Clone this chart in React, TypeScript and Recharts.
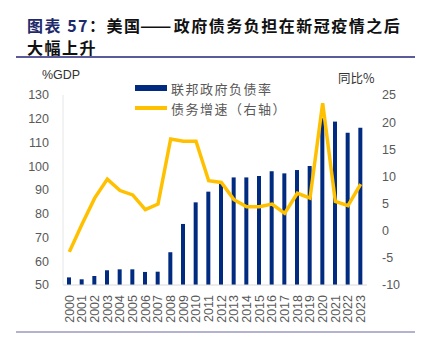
import React from "react";
import { ComposedChart, Bar, Line, XAxis, YAxis } from "recharts";

const years = [
  "2000", "2001", "2002", "2003", "2004", "2005", "2006", "2007", "2008", "2009", "2010", "2011",
  "2012", "2013", "2014", "2015", "2016", "2017", "2018", "2019", "2020", "2021", "2022", "2023",
];
const debtRatio = [
  53.2, 52.4, 53.8, 56.2, 56.6, 56.6, 55.5, 55.6, 63.8, 75.7, 84.8, 89.3,
  93.2, 95.3, 95.3, 95.9, 97.9, 97.0, 98.4, 100.1, 120.2, 118.8, 114.1, 116.2,
];
const debtGrowth = [
  -3.9, 1.2, 6.0, 9.5, 7.4, 6.6, 3.9, 4.9, 16.9, 16.5, 16.5, 9.2,
  8.9, 5.7, 4.4, 4.4, 4.9, 3.2, 6.9, 6.0, 23.5, 5.4, 4.6, 8.6,
];
const leftTicks = [50, 60, 70, 80, 90, 100, 110, 120, 130];
const rightTicks = [-10, -5, 0, 5, 10, 15, 20, 25];

const data = years.map((year, i) => ({
  year,
  ratio: debtRatio[i],
  growth: debtGrowth[i],
}));

const BAR = "#002B80";
const LINE = "#FFC000";
const TICK = "#595959";

const YearTick = ({ x, y, payload }: any) => (
  <g transform={`translate(${x},${y + 10}) rotate(-90)`}>
    <text textAnchor="end" dy="0.35em" fill={TICK} fontSize={12.5} fontFamily="Liberation Sans">
      {payload.value}
    </text>
  </g>
);

const legendText: React.CSSProperties = {
  fontFamily: "Noto Sans CJK SC",
  fontSize: 13,
  letterSpacing: 1.5,
  color: TICK,
  marginLeft: 4,
};

export default function App() {
  return (
    <div style={{ position: "fixed", left: 0, top: 0, width: 424, height: 355, background: "#fff" }}>
      <div
        style={{
          position: "absolute",
          left: 27,
          top: 14,
          width: 397,
          whiteSpace: "nowrap",
          fontFamily: "Noto Sans CJK SC",
          fontWeight: 700,
          fontSize: 16,
          lineHeight: "22px",
          letterSpacing: 1.5,
          color: "#111",
        }}
      >
        <span style={{ color: "#1F2A6B" }}>图表 57</span>：美国<span
          style={{
            display: "inline-block",
            letterSpacing: 0,
            transform: "scaleX(1.15)",
            margin: "0 5px 0 0",
          }}
        >——</span>政府债务负担在新冠疫情之后
        <br />
        大幅上升
      </div>
      <div style={{ position: "absolute", left: 16, top: 56, width: 399, height: 1.5, background: "#5B5B9B" }} />
      <div style={{ position: "absolute", left: 16, top: 331, width: 399, height: 1.5, background: "#B3B3CF" }} />

      <div style={{ position: "absolute", left: 42, top: 68, fontFamily: "Liberation Sans", fontSize: 12.5, color: "#333" }}>
        %GDP
      </div>
      <div style={{ position: "absolute", left: 338, top: 68, fontFamily: "Noto Sans CJK SC", fontSize: 12.5, color: "#333" }}>
        同比%
      </div>

      <div style={{ position: "absolute", left: 135, top: 78 }}>
        <div style={{ display: "flex", alignItems: "center", height: 20 }}>
          <div style={{ width: 32, height: 6, background: BAR }} />
          <span style={legendText}>联邦政府负债率</span>
        </div>
        <div style={{ display: "flex", alignItems: "center", height: 20 }}>
          <div style={{ width: 32, height: 4, background: LINE }} />
          <span style={legendText}>债务增速（右轴）</span>
        </div>
      </div>

      <div style={{ position: "absolute", left: 0, top: 0 }}>
        <ComposedChart width={424} height={355} data={data} margin={{ top: 95, right: 0, bottom: 0, left: 0 }}>
          <XAxis
            dataKey="year"
            height={70}
            interval={0}
            tickLine={false}
            tickSize={0}
            tickMargin={0}
            tick={<YearTick />}
            axisLine={{ stroke: "#D9D9D9" }}
          />
          <YAxis
            yAxisId="left"
            width={63}
            domain={[50, 130]}
            ticks={leftTicks}
            tickLine={false}
            tickSize={0}
            tickMargin={14}
            axisLine={{ stroke: "#E6E6E6" }}
            tick={{ fill: TICK, fontSize: 12.5, fontFamily: "Liberation Sans" }}
          />
          <YAxis
            yAxisId="right"
            orientation="right"
            width={57}
            domain={[-10, 25]}
            ticks={rightTicks}
            tickLine={false}
            tickSize={0}
            tickMargin={15}
            axisLine={false}
            tick={{ fill: TICK, fontSize: 12.5, fontFamily: "Liberation Sans", textAnchor: "start" }}
          />
          <Bar yAxisId="left" dataKey="ratio" fill={BAR} barSize={4} isAnimationActive={false} />
          <Line
            yAxisId="right"
            type="linear"
            dataKey="growth"
            stroke={LINE}
            strokeWidth={3.5}
            dot={false}
            isAnimationActive={false}
          />
        </ComposedChart>
      </div>
    </div>
  );
}
